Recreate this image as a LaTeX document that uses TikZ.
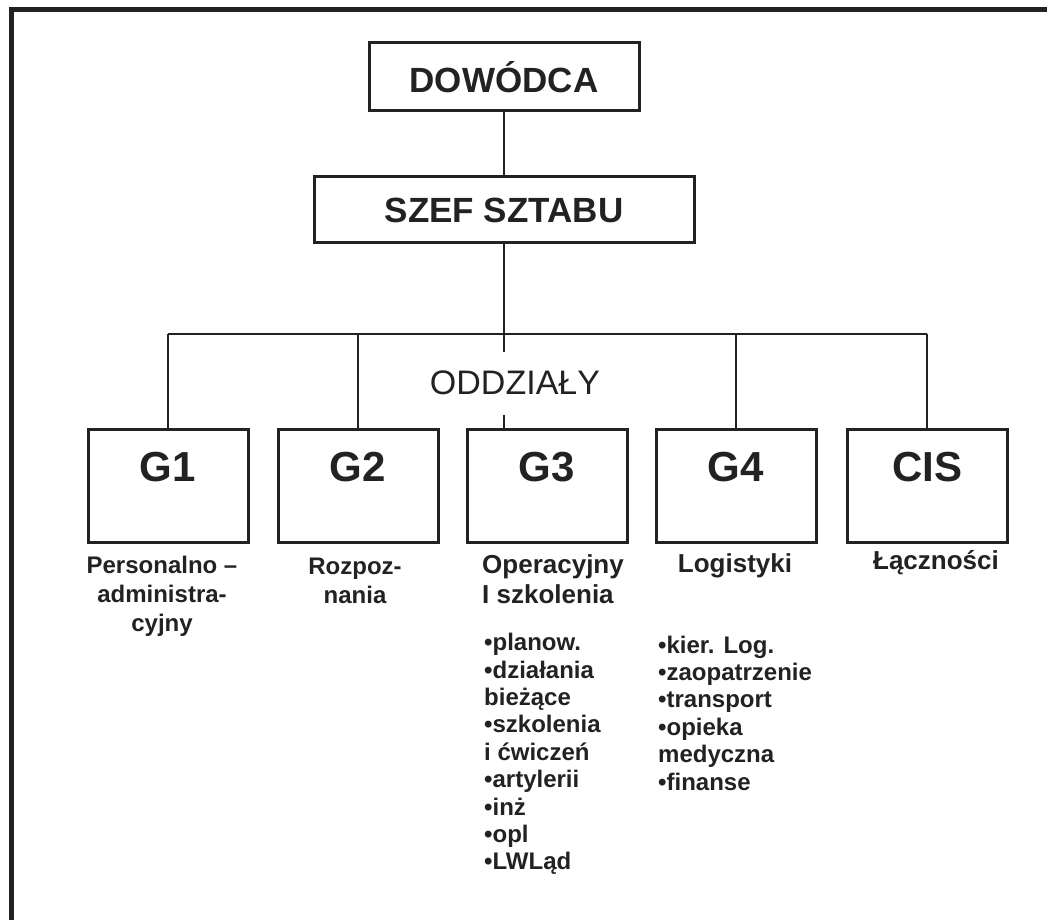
\documentclass[tikz,border=0pt]{standalone}
\usepackage{fontspec}
\setmainfont{Liberation Sans}
\definecolor{ink}{HTML}{222222}
\begin{document}
\begin{tikzpicture}[x=1pt,y=-1pt,
  box/.style={draw=ink, line width=3pt, inner sep=0pt},
  topbox/.style={box, font=\fontsize{35}{40}\selectfont\bfseries, text=ink},
  gbox/.style={box, minimum width=160pt, minimum height=113pt},
  gtext/.style={font=\fontsize{42}{48}\selectfont\bfseries, text=ink, inner sep=0pt},
  conn/.style={draw=ink, line width=2pt},
  frame/.style={draw=ink, line width=5pt},
  lblA/.style={font=\fontsize{24}{29}\selectfont\bfseries, text=ink, align=center, inner sep=0pt},
  lblB/.style={font=\fontsize{26}{30}\selectfont\bfseries, text=ink, inner sep=0pt},
  lst/.style={font=\fontsize{24}{27.4}\selectfont\bfseries, text=ink, align=left, anchor=west, inner sep=0pt},
  hdr/.style={font=\fontsize{34}{40}\selectfont, text=ink, inner sep=0pt}]
\useasboundingbox (0,0) rectangle (1047,920);
\fill[white] (0,0) rectangle (1047,920);
% outer frame (top and left edges)
\coordinate (fTL) at (11,10);
\coordinate (fTR) at (1047,10);
\coordinate (fBL) at (11,920);
\draw[frame] (fTR) -- (fTL) -- (fBL);
% top boxes
\node[topbox, minimum width=270pt, minimum height=68pt] (dow) at (504,77) {DOWÓDCA};
\node[topbox, minimum width=380pt, minimum height=66pt] (szef) at (504,210) {SZEF SZTABU};
% branch boxes
\node[gbox] (g1) at (168,485.5) {};
\node[gbox] (g2) at (358,485.5) {};
\node[gbox] (g3) at (547,485.5) {};
\node[gbox] (g4) at (736,485.5) {};
\node[gbox] (cis) at (927,485.5) {};
\node[gtext] (g1t) at (168,467) {G1};
\node[gtext] (g2t) at (358,467) {G2};
\node[gtext] (g3t) at (547,467) {G3};
\node[gtext] (g4t) at (736,467) {G4};
\node[gtext] (cist) at (927,467) {CIS};
% connectors
\coordinate (busC) at (504,334);
\coordinate (busL) at (168,334);
\coordinate (busR) at (927,334);
\coordinate (stubA) at (504,352);
\coordinate (stubB) at (504,415);
\draw[conn] (dow.south) -- (szef.north);
\draw[conn] (szef.south) -- (busC) -- (stubA);
\draw[conn] (busL) -- (busR);
\draw[conn] (g1.north) -- (g1.north |- busL);
\draw[conn] (g2.north) -- (g2.north |- busL);
\draw[conn] (g4.north) -- (g4.north |- busL);
\draw[conn] (cis.north) -- (cis.north |- busL);
\draw[conn] (stubB) -- (stubB |- g3.north);
\node[hdr] (oddz) at (515,383) {ODDZIAŁY};
% labels under boxes
\node[lblA] (l1) at (162,596) {Personalno –\\administra-\\cyjny};
\node[lblA] (l2) at (355,581) {Rozpoz-\\nania};
\node[lblB, align=left, anchor=west] (l3) at (482,579) {Operacyjny\\I szkolenia};
\node[lblB] (l4) at (735,566) {Logistyki};
\node[lblB] (l5) at (936,563) {Łączności};
% lists
\node[lst] (list3) at (484,754) {•planow.\\•działania\\bieżące\\•szkolenia\\i ćwiczeń\\•artylerii\\•inż\\•opl\\•LWLąd};
\node[lst] (list4) at (658,713) {•kier. Log.\\•zaopatrzenie\\•transport\\•opieka\\medyczna\\•finanse};
\end{tikzpicture}
\end{document}
